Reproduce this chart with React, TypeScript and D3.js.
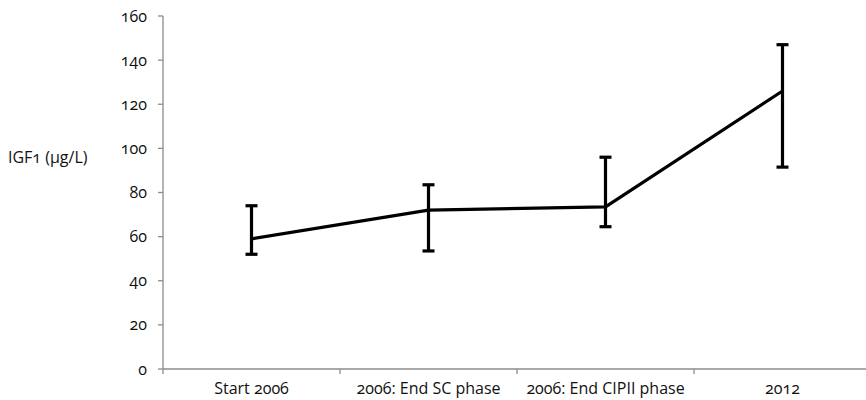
import React from "react";
import * as d3 from "d3";

const categories = ["Start 2006", "2006: End SC phase", "2006: End CIPII phase", "2012"];
const means = [59, 72, 73.5, 126];
const upper = [74, 83.5, 96, 147];
const lower = [52, 53.5, 64.5, 91.5];
const yTicks = [0, 20, 40, 60, 80, 100, 120, 140, 160];

const W = 866;
const H = 400;
const left = 163;
const top = 16;
const bottom = 369;
const font = "'Open Sans', sans-serif";

export default function App() {
  const x = d3.scaleBand<string>().domain(categories).range([left, left + 177 * 4]);
  const y = d3.scaleLinear().domain([0, 160]).range([bottom, top]);
  const cx = (i: number) => (x(categories[i]) as number) + x.bandwidth() / 2;

  const line = d3
    .line<number>()
    .x((_, i) => cx(i))
    .y((d) => y(d));

  const boundaries = d3.range(categories.length + 1).map((i) => left + x.step() * i);

  return (
    <svg width={W} height={H} style={{ position: "absolute", left: 0, top: 0, background: "#fff" }}>
      <g stroke="#8c8c8c" strokeWidth={1.3} fill="none">
        <line x1={left} x2={left} y1={top} y2={bottom} />
        <line x1={left} x2={W} y1={bottom} y2={bottom} />
        {yTicks.map((t) => (
          <line key={t} x1={left - 5} x2={left} y1={y(t)} y2={y(t)} />
        ))}
        {boundaries.map((b) => (
          <line key={b} x1={b} x2={b} y1={bottom} y2={bottom + 5} />
        ))}
      </g>
      <g fontFamily={font} fontSize={16} fill="#111" style={{ fontVariantNumeric: "oldstyle-nums" }}>
        {yTicks.map((t) => (
          <text key={t} x={left - 16} y={y(t)} dy="0.35em" textAnchor="end">
            {t}
          </text>
        ))}
        {categories.map((c, i) => (
          <text key={c} x={cx(i)} y={394} textAnchor="middle">
            {c}
          </text>
        ))}
        <text x={8} y={163}>IGF1 (µg/L)</text>
      </g>
      <path d={line(means) ?? ""} fill="none" stroke="#000" strokeWidth={3.2} strokeLinejoin="round" />
      <g stroke="#000" strokeWidth={3.2}>
        {categories.map((c, i) => (
          <g key={c}>
            <line x1={cx(i)} x2={cx(i)} y1={y(upper[i])} y2={y(lower[i])} />
            <line x1={cx(i) - 6} x2={cx(i) + 6} y1={y(upper[i])} y2={y(upper[i])} />
            <line x1={cx(i) - 6} x2={cx(i) + 6} y1={y(lower[i])} y2={y(lower[i])} />
          </g>
        ))}
      </g>
    </svg>
  );
}
